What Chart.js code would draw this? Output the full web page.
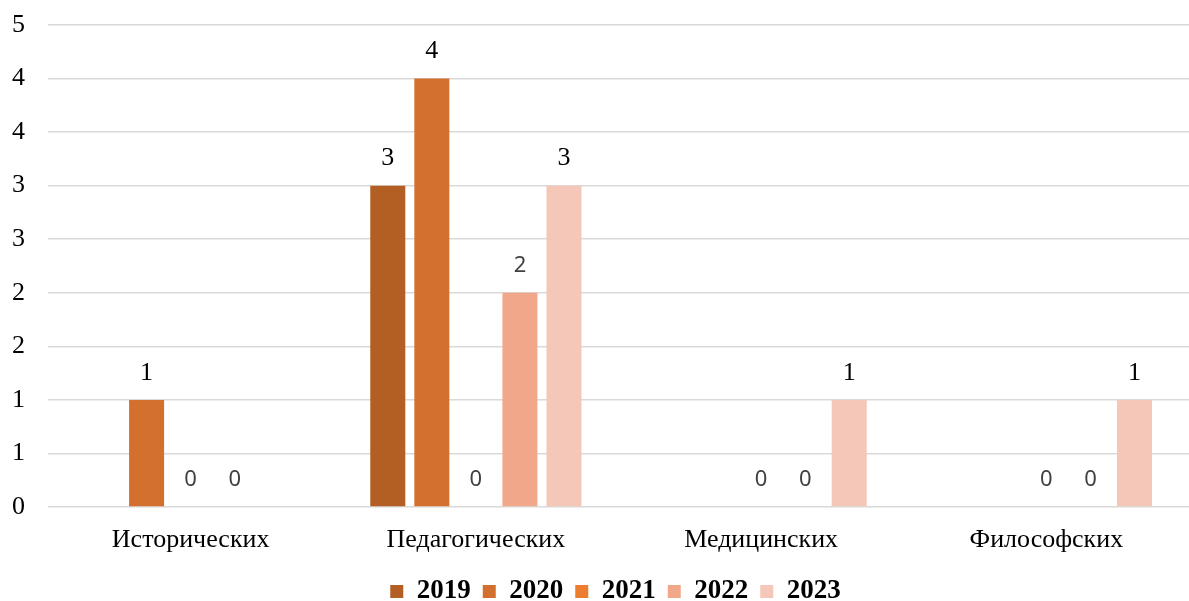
<!DOCTYPE html>
<html>
<head>
<meta charset="utf-8">
<script src="https://cdn.jsdelivr.net/npm/chart.js@4/dist/chart.umd.min.js"></script>
<style>
html,body{margin:0;padding:0;background:#fff;}
#wrap{width:1189px;height:601px;}
</style>
</head>
<body>
<div id="wrap"><canvas id="c" width="1189" height="601"></canvas></div>
<script>
const categories = ["Исторических", "Педагогических", "Медицинских", "Философских"];
const seriesNames = ["2019", "2020", "2021", "2022", "2023"];
const v2019 = [null, 3, null, null];
const v2020 = [1, 4, null, null];
const v2021 = [0, 0, 0, 0];
const v2022 = [0, 2, 0, 0];
const v2023 = [null, 3, 1, 1];
const yTicks = [0, 0.5, 1, 1.5, 2, 2.5, 3, 3.5, 4, 4.5];

const colors = ["#B35E22", "#D3702E", "#ED7D31", "#F1A88A", "#F4C7B8"];
const labelStyles = [
  {font: "26px 'Liberation Serif'", color: "#000"},
  {font: "26px 'Liberation Serif'", color: "#000"},
  {font: "22px 'Noto Sans'", color: "#404040"},
  {font: "22px 'Noto Sans'", color: "#404040"},
  {font: "26px 'Liberation Serif'", color: "#000"}
];
const values = [v2019, v2020, v2021, v2022, v2023];

const labelPlugin = {
  id: 'barLabels',
  afterLayout(chart) {
    const lg = chart.legend;
    if (lg) { lg.left = 42; lg.right = 1189; lg.top += 14; lg.bottom += 14; }
  },
  afterDatasetsDraw(chart) {
    const ctx = chart.ctx;
    chart.data.datasets.forEach((ds, i) => {
      const meta = chart.getDatasetMeta(i);
      meta.data.forEach((bar, j) => {
        const v = ds.data[j];
        if (v === null || v === undefined) return;
        ctx.save();
        ctx.font = labelStyles[i].font;
        ctx.fillStyle = labelStyles[i].color;
        ctx.textAlign = 'center';
        ctx.textBaseline = 'middle';
        ctx.fillText(String(v), bar.x, bar.y - 27);
        ctx.restore();
      });
    });
  }
};

new Chart(document.getElementById('c'), {
  type: 'bar',
  data: {
    labels: categories,
    datasets: seriesNames.map((n, i) => ({
      label: n,
      data: values[i],
      backgroundColor: colors[i],
      borderWidth: 0,
      categoryPercentage: 0.772,
      barPercentage: 0.795
    }))
  },
  options: {
    responsive: false,
    animation: false,
    layout: {padding: {left: 0, right: -6, top: 25, bottom: 0}},
    plugins: {
      legend: {
        position: 'bottom',
        labels: {
          boxWidth: 13, boxHeight: 13, padding: 12,
          color: '#000',
          font: {family: "'Liberation Serif'", size: 27, weight: 'bold'}
        }
      },
      tooltip: {enabled: false}
    },
    scales: {
      x: {
        grid: {display: false},
        border: {display: false},
        ticks: {color: '#000', padding: 10, font: {family: "'Liberation Serif'", size: 26}},
        afterFit(axis) { axis.height = 45; }
      },
      y: {
        min: 0, max: 4.5,
        afterBuildTicks(axis) { axis.ticks = yTicks.map(v => ({value: v})); },
        grid: {color: '#D9D9D9', lineWidth: 1.5, drawTicks: false, tickLength: 0},
        border: {display: false},
        ticks: {
          color: '#000', padding: 23,
          font: {family: "'Liberation Serif'", size: 26},
          callback: v => String(Math.round(v))
        },
        afterFit(axis) { axis.width = 48; axis.paddingTop = 0; axis.paddingBottom = 0; }
      }
    }
  },
  plugins: [labelPlugin]
});
</script>
</body>
</html>
